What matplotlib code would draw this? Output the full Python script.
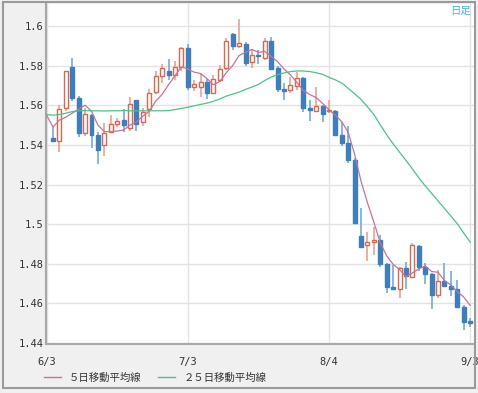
import matplotlib
matplotlib.use("Agg")
import matplotlib.pyplot as plt
from matplotlib.lines import Line2D
from matplotlib.patches import Rectangle
from matplotlib.font_manager import FontProperties

# daily candles (index 1..66)
opens = [1.5435, 1.5421, 1.5586, 1.5791, 1.5638, 1.5460, 1.5551, 1.5450, 1.5399, 1.5465,
         1.5505, 1.5525, 1.5485, 1.5624, 1.5515, 1.5581, 1.5667, 1.5748, 1.5774, 1.5753,
         1.5793, 1.5887, 1.5694, 1.5692, 1.5719, 1.5663, 1.5727, 1.5786, 1.5960, 1.5901,
         1.5909, 1.5817, 1.5856, 1.5837, 1.5926, 1.5788, 1.5682, 1.5677, 1.5697, 1.5736,
         1.5585, 1.5573, 1.5596, 1.5569, 1.5571, 1.5450, 1.5408, 1.5324, 1.4940, 1.4894,
         1.4911, 1.4920, 1.4799, 1.4681, 1.4671, 1.4781, 1.4735, 1.4889, 1.4785, 1.4748,
         1.4642, 1.4714, 1.4688, 1.4671, 1.4583, 1.4508]
closes = [1.5420, 1.5579, 1.5773, 1.5639, 1.5458, 1.5556, 1.5450, 1.5374, 1.5462, 1.5505,
          1.5520, 1.5500, 1.5606, 1.5505, 1.5566, 1.5664, 1.5748, 1.5786, 1.5753, 1.5795,
          1.5887, 1.5694, 1.5707, 1.5717, 1.5663, 1.5732, 1.5781, 1.5926, 1.5901, 1.5913,
          1.5815, 1.5856, 1.5849, 1.5926, 1.5785, 1.5682, 1.5674, 1.5700, 1.5736, 1.5585,
          1.5576, 1.5596, 1.5556, 1.5574, 1.5450, 1.5411, 1.5324, 1.5007, 1.4887, 1.4911,
          1.4920, 1.4799, 1.4684, 1.4672, 1.4780, 1.4738, 1.4894, 1.4785, 1.4748, 1.4642,
          1.4714, 1.4688, 1.4671, 1.4580, 1.4508, 1.4503]
highs = [1.5490, 1.5601, 1.5775, 1.5838, 1.5645, 1.5586, 1.5555, 1.5465, 1.5510, 1.5551,
         1.5534, 1.5581, 1.5642, 1.5628, 1.5586, 1.5682, 1.5773, 1.5806, 1.5833, 1.5823,
         1.5894, 1.5909, 1.5727, 1.5763, 1.5732, 1.5753, 1.5803, 1.5938, 1.5965, 1.6035,
         1.5919, 1.5879, 1.5881, 1.5939, 1.5944, 1.5798, 1.5712, 1.5743, 1.5769, 1.5743,
         1.5626, 1.5694, 1.5601, 1.5626, 1.5576, 1.5513, 1.5495, 1.5334, 1.5081, 1.4958,
         1.4985, 1.4945, 1.4804, 1.4794, 1.4785, 1.4809, 1.4903, 1.4894, 1.4802, 1.4753,
         1.4768, 1.4804, 1.4765, 1.4718, 1.4592, 1.4528]
lows = [1.5418, 1.5365, 1.5570, 1.5621, 1.5440, 1.5445, 1.5384, 1.5303, 1.5344, 1.5462,
        1.5492, 1.5466, 1.5470, 1.5470, 1.5495, 1.5541, 1.5657, 1.5712, 1.5727, 1.5727,
        1.5773, 1.5677, 1.5672, 1.5642, 1.5631, 1.5657, 1.5717, 1.5778, 1.5879, 1.5889,
        1.5798, 1.5788, 1.5808, 1.5828, 1.5778, 1.5667, 1.5626, 1.5662, 1.5677, 1.5566,
        1.5523, 1.5567, 1.5517, 1.5561, 1.5445, 1.5394, 1.5308, 1.5000, 1.4878, 1.4814,
        1.4844, 1.4785, 1.4652, 1.4667, 1.4627, 1.4671, 1.4733, 1.4761, 1.4700, 1.4570,
        1.4625, 1.4683, 1.4637, 1.4576, 1.4465, 1.4481]

# moving averages (index 0..66)
ma5 = [1.5550, 1.5490, 1.5525, 1.5540, 1.5560, 1.5580, 1.5600, 1.5570, 1.5500, 1.5467,
       1.5467, 1.5470, 1.5475, 1.5500, 1.5515, 1.5545, 1.5570, 1.5620, 1.5655, 1.5703,
       1.5749, 1.5794, 1.5783, 1.5767, 1.5760, 1.5734, 1.5703, 1.5720, 1.5764, 1.5801,
       1.5851, 1.5867, 1.5882, 1.5867, 1.5872, 1.5846, 1.5820, 1.5783, 1.5753, 1.5715,
       1.5675, 1.5654, 1.5639, 1.5610, 1.5577, 1.5550, 1.5517, 1.5463, 1.5353, 1.5216,
       1.5108, 1.5010, 1.4905, 1.4840, 1.4797, 1.4771, 1.4735, 1.4754, 1.4774, 1.4789,
       1.4761, 1.4757, 1.4715, 1.4693, 1.4659, 1.4632, 1.4590]
ma25 = [1.5553, 1.5550, 1.5553, 1.5560, 1.5568, 1.5572, 1.5573, 1.5572, 1.5572, 1.5571,
        1.5572, 1.5572, 1.5573, 1.5572, 1.5572, 1.5572, 1.5572, 1.5572, 1.5572, 1.5573,
        1.5578, 1.5584, 1.5590, 1.5597, 1.5604, 1.5611, 1.5620, 1.5632, 1.5646, 1.5656,
        1.5666, 1.5680, 1.5692, 1.5705, 1.5725, 1.5742, 1.5755, 1.5763, 1.5770, 1.5773,
        1.5773, 1.5770, 1.5764, 1.5756, 1.5741, 1.5728, 1.5712, 1.5685, 1.5658, 1.5629,
        1.5592, 1.5553, 1.5501, 1.5451, 1.5405, 1.5363, 1.5322, 1.5279, 1.5234, 1.5193,
        1.5155, 1.5117, 1.5079, 1.5041, 1.5002, 1.4955, 1.4910]

date_pos = [0, 22, 44, 66]
date_labels = ["6/3", "7/3", "8/4", "9/3"]
y_ticks = [1.44, 1.46, 1.48, 1.5, 1.52, 1.54, 1.56, 1.58, 1.6]

UP = "#e2654a"
UP_WICK = "#eea08e"
DOWN = "#3b7fbf"
DOWN_WICK = "#74a9da"

fig = plt.figure(figsize=(4.78, 3.93), dpi=100)
fig.patch.set_facecolor("#f0f0f0")
ax = fig.add_axes([46 / 478, 49 / 393, 428 / 478, 340 / 393])
ax.set_facecolor("white")

xs = list(range(1, len(opens) + 1))
for x, o, h, l, c in zip(xs, opens, highs, lows, closes):
    up = c >= o
    ax.vlines(x, l, h, color=UP_WICK if up else DOWN_WICK, lw=1.2, zorder=2)
    bottom = min(o, c)
    height = max(abs(c - o), 0.0007)
    if up:
        ax.bar(x, height, 0.62, bottom=bottom, facecolor="white", edgecolor=UP, lw=1, zorder=3)
    else:
        ax.bar(x, height, 0.62, bottom=bottom, facecolor=DOWN, edgecolor=DOWN, lw=1, zorder=3)

idx = list(range(len(ma5)))
ax.plot(idx, ma5, color="#c8739a", lw=0.9, zorder=4)
ax.plot(idx, ma25, color="#4cc28a", lw=0.9, zorder=4)

ax.set_xlim(-0.09, 66.6)
ax.set_ylim(1.4395, 1.6111)
ax.set_yticks(y_ticks)
ax.set_yticklabels([f"{v:g}" for v in y_ticks], fontfamily="DejaVu Sans Mono", fontsize=7.5, color="#333333")
ax.set_xticks(date_pos)
ax.set_xticklabels(date_labels, fontfamily="DejaVu Sans Mono", fontsize=7.5, color="#333333")
ax.tick_params(axis="both", length=0)
ax.tick_params(axis="y", pad=2)
ax.tick_params(axis="x", pad=9)
ax.grid(True, color="#e3e3e3", lw=1)
ax.set_axisbelow(True)
for s in ["top", "right"]:
    ax.spines[s].set_visible(False)
for s in ["left", "bottom"]:
    ax.spines[s].set_color("#a8a8a8")
    ax.spines[s].set_linewidth(1.5)

# outer frame
fig.patches.append(Rectangle((3 / 478, 5 / 393), 472 / 478, 386 / 393, transform=fig.transFigure,
                             fill=False, edgecolor="#9a9a9a", lw=1.5))

jp = FontProperties(family=["Noto Sans CJK JP", "DejaVu Sans"], size=7.5)
handles = [Line2D([], [], color="#c8739a", lw=1), Line2D([], [], color="#4cc28a", lw=1)]
fig.legend(handles, ["５日移動平均線", "２５日移動平均線"], loc="center left",
           bbox_to_anchor=(44 / 478, 15 / 393), ncol=2, frameon=False, prop=jp,
           handlelength=1.65, handletextpad=0.75, columnspacing=1.6,
           borderpad=0, borderaxespad=0, labelcolor="#333333")

fig.text(471 / 478, 382 / 393, "日足", ha="right", va="center", color="#45aef0",
         fontproperties=FontProperties(family=["Noto Sans CJK JP", "DejaVu Sans"], size=7.5))

fig.savefig("out.png", dpi=100, facecolor=fig.get_facecolor())
